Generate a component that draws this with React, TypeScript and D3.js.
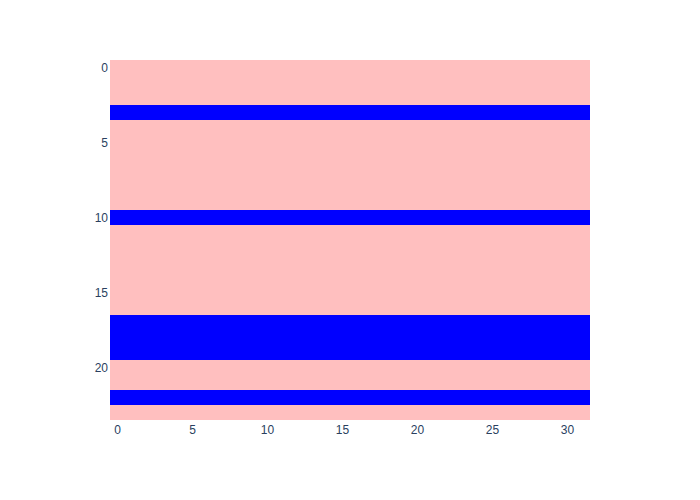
import React from "react";
import * as d3 from "d3";

const rowIndex: number[] = d3.range(24);
const colIndex: number[] = d3.range(32);
// value per row (constant across all columns)
const rowValues: number[] = [0, 0, 0, 1, 0, 0, 0, 0, 0, 0, 1, 0, 0, 0, 0, 0, 0, 1, 1, 1, 0, 0, 1, 0];
const xTicks: number[] = [0, 5, 10, 15, 20, 25, 30];
const yTicks: number[] = [0, 5, 10, 15, 20];

export default function App() {
  const W = 700, H = 500;
  const L = 110, R = 590, T = 60, B = 420;
  const x = d3.scaleBand<number>().domain(colIndex).range([L, R]);
  const y = d3.scaleBand<number>().domain(rowIndex).range([T, B]);
  const color = d3.scaleLinear<string>().domain([0, 1]).range(["rgb(255,191,191)", "rgb(0,0,255)"]);
  const font = '"Liberation Sans", Arial, sans-serif';
  return (
    <svg width={W} height={H} style={{ position: "absolute", left: 0, top: 0, background: "#fff" }}>
      <g>
        {rowIndex.map((r) =>
          colIndex.map((c) => (
            <rect key={`${r}-${c}`} x={x(c)!} y={y(r)!} width={x.bandwidth()} height={y.bandwidth()}
              fill={color(rowValues[r])} shapeRendering="crispEdges" />
          ))
        )}
      </g>
      <g fontFamily={font} fontSize={12} fill="#2a3f5f">
        {xTicks.map((t) => (
          <text key={t} x={x(t)! + x.bandwidth() / 2} y={B + 13.5} textAnchor="middle">{t}</text>
        ))}
        {yTicks.map((t) => (
          <text key={t} x={L - 2} y={y(t)! + y.bandwidth() / 2} dy="0.35em" textAnchor="end">{t}</text>
        ))}
      </g>
    </svg>
  );
}
